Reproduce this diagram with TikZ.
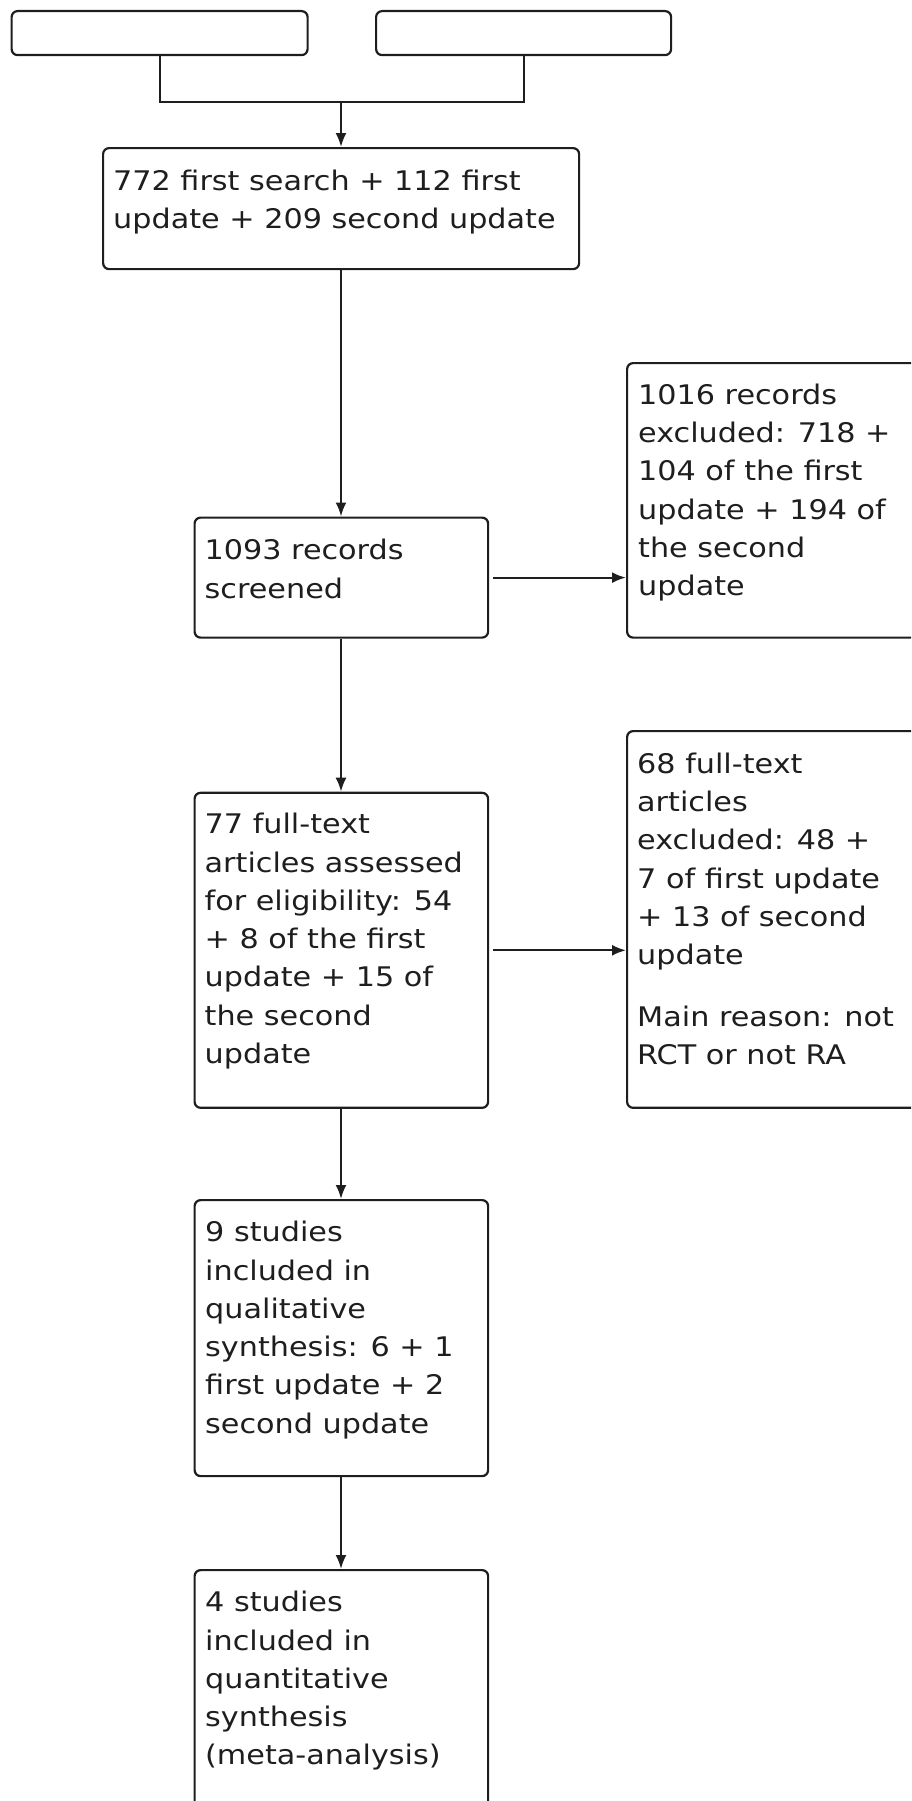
\documentclass[tikz,border=0pt]{standalone}
\usepackage{fontspec}
\newfontfamily\boxfont[FakeStretch=1.12]{DejaVu Sans}
\usetikzlibrary{arrows.meta}
\definecolor{ink}{HTML}{1E1E1E}
\tikzset{
  box/.style={draw=ink, line width=2.2pt, rounded corners=6pt, inner sep=0pt, anchor=north west},
  txt/.style={anchor=north west, inner sep=0pt, align=left, text=ink,
    font=\boxfont\fontsize{27}{38.3}\selectfont},
  conn/.style={draw=ink, line width=2.2pt},
  arr/.style={conn, -{Latex[length=14pt,width=11pt]}},
}
\newcommand{\fl}{\rule{0pt}{24pt}}
\begin{document}
\begin{tikzpicture}[x=1pt,y=-1pt]
\useasboundingbox (0,0) rectangle (911,1801);
\clip (0,0) rectangle (911,1801);
% boxes
\node[box, minimum width=296pt, minimum height=44pt] (tl) at (10.5,10) {};
\node[box, minimum width=295pt, minimum height=44pt] (tr) at (375,10) {};
\node[box, minimum width=476pt, minimum height=121pt] (b1) at (102,147) {};
\node[box, minimum width=293.5pt, minimum height=120pt] (b2) at (193.5,516.5) {};
\node[box, minimum width=300pt, minimum height=274.5pt] (r1) at (626,362) {};
\node[box, minimum width=293.5pt, minimum height=315pt] (b3) at (193.5,791.7) {};
\node[box, minimum width=300pt, minimum height=376.7pt] (r2) at (626,730) {};
\node[box, minimum width=293.5pt, minimum height=276pt] (b4) at (193.5,1199) {};
\node[box, minimum width=293.5pt, minimum height=280pt] (b5) at (193.5,1569) {};
% texts
\node[txt] (t1) at (113,166) {\fl772 first search + 112 first\\update + 209 second update};
\node[txt] (t2) at (204.5,535.5) {\fl1093 records\\screened};
\node[txt] (tr1) at (638,380) {\fl1016 records\\excluded: 718 +\\104 of the first\\update + 194 of\\the second\\update};
\node[txt] (t3) at (204.5,809.5) {\fl77 full-text\\articles assessed\\for eligibility: 54\\+ 8 of the first\\update + 15 of\\the second\\update};
\node[txt] (tr2) at (637,749) {\fl68 full-text\\articles\\excluded: 48 +\\7 of first update\\+ 13 of second\\update\\[23.4pt]Main reason: not\\RCT or not RA};
\node[txt] (t4) at (205,1217.5) {\fl9 studies\\included in\\qualitative\\synthesis: 6 + 1\\first update + 2\\second update};
\node[txt] (t5) at (205,1587.5) {\fl4 studies\\included in\\quantitative\\synthesis\\(meta-analysis)};
% connectors
\coordinate (j) at (341,101.7);
\draw[conn] (tl.south) |- (j) -| (tr.south);
\draw[arr] (j) -- (j |- b1.north);
\draw[arr] (j |- b1.south) -- (j |- b2.north);
\draw[arr] ([xshift=4pt]b2.east) -- (b2.east -| r1.west);
\draw[arr] (j |- b2.south) -- (j |- b3.north);
\draw[arr] ([xshift=4pt]b3.east) -- (b3.east -| r2.west);
\draw[arr] (j |- b3.south) -- (j |- b4.north);
\draw[arr] (j |- b4.south) -- (j |- b5.north);
\end{tikzpicture}
\end{document}
